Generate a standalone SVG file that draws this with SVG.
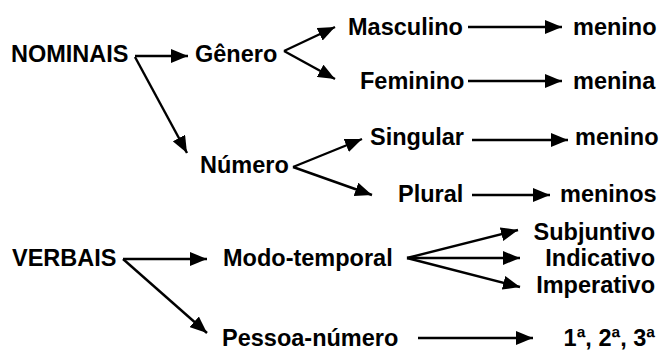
<svg xmlns="http://www.w3.org/2000/svg" width="660" height="352" viewBox="0 0 660 352">
  <defs>
    <style>
      .t { font-family: "Liberation Sans", Arial, sans-serif; font-weight: bold; font-size: 23.5px; fill: #000; }
      .e { text-anchor: end; }
      .c { stroke: #000; stroke-width: 2.4; fill: none; marker-end: url(#ah); }
    </style>
    <marker id="ah" markerUnits="userSpaceOnUse" markerWidth="17" markerHeight="14" refX="17" refY="7" orient="auto">
      <path d="M0,0 L17,7 L0,14 z" fill="#000"/>
    </marker>
  </defs>
  <rect width="660" height="352" fill="#fff"/>

  <g id="connectors">
    <line class="c" x1="135" y1="56" x2="188" y2="56"/>
    <line class="c" x1="135" y1="57" x2="187" y2="153"/>
    <line class="c" x1="284" y1="51" x2="335" y2="27"/>
    <line class="c" x1="284" y1="51" x2="335" y2="79"/>
    <line class="c" x1="468" y1="27" x2="562" y2="27"/>
    <line class="c" x1="468" y1="81" x2="562" y2="81"/>
    <line class="c" x1="293" y1="167" x2="362" y2="139"/>
    <line class="c" x1="293" y1="167" x2="372" y2="195"/>
    <line class="c" x1="472" y1="140" x2="568" y2="140"/>
    <line class="c" x1="472" y1="195" x2="550" y2="195"/>
    <line class="c" x1="123" y1="259" x2="207" y2="259"/>
    <line class="c" x1="123" y1="259" x2="207" y2="333"/>
    <line class="c" x1="407" y1="258" x2="518" y2="230"/>
    <line class="c" x1="407" y1="258" x2="520" y2="258"/>
    <line class="c" x1="407" y1="258" x2="520" y2="287"/>
    <line class="c" x1="418" y1="338" x2="533" y2="338"/>
  </g>

  <g id="nominais"><text class="t" x="11" y="62">NOMINAIS</text></g>
  <g id="genero"><text class="t" x="195" y="62">Gênero</text></g>
  <g id="masculino"><text class="t" x="348" y="35">Masculino</text></g>
  <g id="menino1"><text class="t" x="573" y="35">menino</text></g>
  <g id="feminino"><text class="t" x="360" y="89">Feminino</text></g>
  <g id="menina"><text class="t" x="573" y="89">menina</text></g>
  <g id="numero"><text class="t" x="200" y="173">Número</text></g>
  <g id="singular"><text class="t" x="370" y="145">Singular</text></g>
  <g id="menino2"><text class="t" x="575" y="145">menino</text></g>
  <g id="plural"><text class="t" x="398" y="202">Plural</text></g>
  <g id="meninos"><text class="t" x="560" y="202">meninos</text></g>
  <g id="verbais"><text class="t" x="12" y="266">VERBAIS</text></g>
  <g id="modo-temporal"><text class="t" x="223" y="266">Modo-temporal</text></g>
  <g id="subjuntivo"><text class="t e" x="655" y="240">Subjuntivo</text></g>
  <g id="indicativo"><text class="t e" x="655" y="266">Indicativo</text></g>
  <g id="imperativo"><text class="t e" x="655" y="293">Imperativo</text></g>
  <g id="pessoa-numero"><text class="t" x="222" y="346">Pessoa-número</text></g>
  <g id="pessoas"><text class="t e" x="655" y="346">1ª, 2ª, 3ª</text></g>
</svg>
